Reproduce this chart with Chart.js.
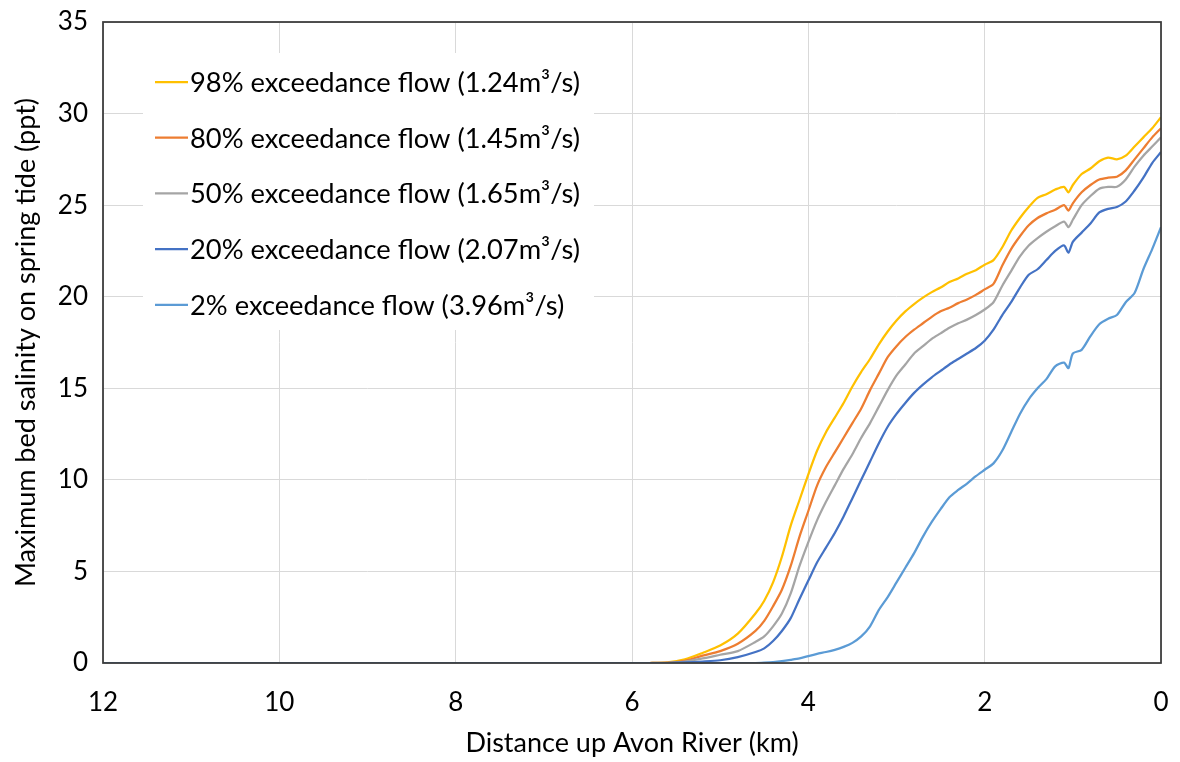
<!DOCTYPE html>
<html>
<head>
<meta charset="utf-8">
<script src="https://cdn.jsdelivr.net/npm/chart.js@4.4.1/dist/chart.umd.min.js"></script>
<style>
  html, body { margin: 0; padding: 0; background: #fff; }
  #wrap { width: 1180px; height: 762px; }
</style>
</head>
<body>
<div id="wrap"><canvas id="salinityChart" width="1180" height="762"></canvas></div>
<script>
// distance up river (km) shared by every series
const distanceKm = [12, 6, 5.8, 5.6, 5.4, 5.2, 5.0, 4.8, 4.6, 4.5, 4.4, 4.3, 4.2, 4.1, 4.0,
  3.9, 3.8, 3.7, 3.6, 3.5, 3.4, 3.3, 3.2, 3.1, 3.0, 2.9, 2.8, 2.7, 2.6, 2.5, 2.4, 2.3, 2.2,
  2.1, 2.0, 1.9, 1.8, 1.7, 1.6, 1.5, 1.4, 1.3, 1.2, 1.1, 1.05, 1.0, 0.9, 0.8, 0.7, 0.6, 0.5,
  0.4, 0.3, 0.2, 0.1, 0];

// max bed salinity (ppt) per flow scenario
const flow98 = [0, 0, 0, 0.03, 0.2, 0.55, 0.95, 1.6, 2.7, 3.4, 4.4, 5.8, 7.5, 8.9, 10.3,
  11.6, 12.6, 13.4, 14.2, 15.1, 15.9, 16.6, 17.4, 18.1, 18.7, 19.2, 19.6, 19.95, 20.25, 20.5, 20.8, 21.0, 21.25,
  21.45, 21.75, 22.0, 22.7, 23.6, 24.3, 24.9, 25.4, 25.6, 25.85, 26.0, 25.7, 26.1, 26.7, 27.0, 27.4, 27.6, 27.5,
  27.7, 28.2, 28.7, 29.2, 29.8];
const flow80 = [0, 0, 0, 0.02, 0.12, 0.4, 0.65, 1.05, 1.75, 2.3, 3.1, 4.0, 5.3, 6.9, 8.3,
  9.7, 10.7, 11.5, 12.3, 13.1, 13.9, 14.9, 15.8, 16.7, 17.3, 17.8, 18.2, 18.55, 18.9, 19.2, 19.4, 19.65, 19.85,
  20.1, 20.4, 20.7, 21.7, 22.6, 23.3, 23.9, 24.3, 24.55, 24.75, 25.0, 24.7, 25.1, 25.7, 26.1, 26.4, 26.5, 26.55,
  26.9, 27.5, 28.1, 28.7, 29.2];
const flow50 = [0, 0, 0, 0.01, 0.08, 0.25, 0.45, 0.65, 1.15, 1.45, 2.0, 2.7, 3.8, 5.3, 6.6,
  7.8, 8.8, 9.7, 10.6, 11.4, 12.3, 13.1, 14.0, 14.9, 15.7, 16.3, 16.9, 17.3, 17.7, 18.0, 18.3, 18.55, 18.75,
  19.0, 19.3, 19.7, 20.6, 21.4, 22.2, 22.8, 23.2, 23.55, 23.85, 24.1, 23.8, 24.2, 25.0, 25.5, 25.9, 26.0, 26.0,
  26.4, 27.1, 27.7, 28.2, 28.7];
const flow20 = [0, 0, 0, 0, 0.03, 0.08, 0.15, 0.32, 0.6, 0.8, 1.2, 1.75, 2.45, 3.5, 4.5,
  5.5, 6.3, 7.1, 8.0, 9.0, 10.0, 11.0, 12.0, 12.9, 13.6, 14.2, 14.75, 15.2, 15.6, 15.95, 16.3, 16.6, 16.9,
  17.2, 17.6, 18.2, 19.0, 19.7, 20.5, 21.2, 21.5, 22.0, 22.5, 22.8, 22.4, 23.0, 23.5, 24.0, 24.6, 24.8, 24.9,
  25.2, 25.8, 26.5, 27.3, 27.9];
const flow2 = [0, 0, 0, 0, 0, 0, 0, 0, 0, 0.02, 0.05, 0.1, 0.17, 0.25, 0.38,
  0.5, 0.6, 0.72, 0.88, 1.1, 1.45, 2.0, 2.9, 3.6, 4.4, 5.2, 6.0, 6.9, 7.7, 8.4, 9.05, 9.45, 9.8,
  10.2, 10.55, 10.9, 11.6, 12.6, 13.6, 14.4, 15.0, 15.5, 16.2, 16.4, 16.1, 16.9, 17.1, 17.85, 18.5, 18.8, 19.0,
  19.7, 20.2, 21.5, 22.6, 23.8];

const seriesLabels = [
  '98% exceedance flow (1.24m³/s)',
  '80% exceedance flow (1.45m³/s)',
  '50% exceedance flow (1.65m³/s)',
  '20% exceedance flow (2.07m³/s)',
  '2% exceedance flow (3.96m³/s)'
];
const seriesValues = [flow98, flow80, flow50, flow20, flow2];
const seriesColors = ['#FFC000', '#ED7D31', '#A5A5A5', '#4472C4', '#5B9BD5'];

const yTicks = [0, 5, 10, 15, 20, 25, 30, 35];
const xTicks = [0, 2, 4, 6, 8, 10, 12];

const FONT = 'Lato, "Open Sans", sans-serif';
const TEXT_COLOR = '#000';

// legend drawn inside the plot area, on a white box (Excel style)
const insideLegend = {
  id: 'insideLegend',
  afterDatasetsDraw(chart) {
    const {ctx, chartArea} = chart;
    const boxL = chartArea.left + 40, boxT = chartArea.top + 31;
    const boxW = 451, boxH = 277;
    const rowH = 55.7, firstRow = chartArea.top + 60;
    ctx.save();
    ctx.fillStyle = '#fff';
    ctx.fillRect(boxL, boxT, boxW, boxH);
    ctx.font = '27.3px ' + FONT;
    ctx.textBaseline = 'middle';
    ctx.textAlign = 'left';
    chart.data.datasets.forEach((ds, i) => {
      const y = firstRow + i * rowH;
      ctx.strokeStyle = ds.borderColor;
      ctx.lineWidth = 2.25;
      ctx.beginPath();
      ctx.moveTo(boxL + 12, y);
      ctx.lineTo(boxL + 45, y);
      ctx.stroke();
      ctx.fillStyle = TEXT_COLOR;
      ctx.fillText(ds.label, boxL + 47, y + 1);
    });
    ctx.restore();
  }
};

// dark frame round the plot area
const plotFrame = {
  id: 'plotFrame',
  afterDraw(chart) {
    const {ctx, chartArea} = chart;
    ctx.save();
    ctx.strokeStyle = '#3a3a3a';
    ctx.lineWidth = 1.75;
    ctx.strokeRect(chartArea.left, chartArea.top, chartArea.right - chartArea.left, chartArea.bottom - chartArea.top);
    ctx.restore();
  }
};

const ctx = document.getElementById('salinityChart').getContext('2d');
new Chart(ctx, {
  type: 'line',
  data: {
    datasets: seriesValues.map((vals, i) => ({
      label: seriesLabels[i],
      data: distanceKm.map((d, j) => ({x: d, y: vals[j]})),
      borderColor: seriesColors[i],
      backgroundColor: seriesColors[i],
      borderWidth: 2.25,
      pointRadius: 0,
      tension: 0.25,
      fill: false,
      order: seriesValues.length - i
    }))
  },
  options: {
    responsive: false,
    animation: false,
    events: [],
    layout: {padding: {top: 22, right: 19, left: 0, bottom: 0}},
    plugins: {legend: {display: false}, tooltip: {enabled: false}},
    scales: {
      x: {
        type: 'linear',
        reverse: true,
        min: 0,
        max: 12,
        afterBuildTicks: s => { s.ticks = xTicks.map(v => ({value: v})); },
        afterFit: s => { s.height = 99; s.paddingLeft = 0; s.paddingRight = 0; },
        grid: {color: '#d9d9d9', lineWidth: 1, drawTicks: false},
        border: {display: false},
        ticks: {color: TEXT_COLOR, font: {family: FONT, size: 26}, padding: 24, maxRotation: 0},
        title: {display: true, text: 'Distance up Avon River (km)', color: TEXT_COLOR,
          font: {family: FONT, size: 27}, padding: {top: 0, bottom: 3}}
      },
      y: {
        min: 0,
        max: 35,
        afterBuildTicks: s => { s.ticks = yTicks.map(v => ({value: v})); },
        afterFit: s => { s.width = 103; s.paddingTop = 0; s.paddingBottom = 0; },
        grid: {color: '#d9d9d9', lineWidth: 1, drawTicks: false},
        border: {display: false},
        ticks: {color: TEXT_COLOR, font: {family: FONT, size: 26}, padding: 15},
        title: {display: true, text: 'Maximum bed salinity on spring tide (ppt)', color: TEXT_COLOR,
          font: {family: FONT, size: 27}, padding: {top: 10, bottom: 0}}
      }
    }
  },
  plugins: [insideLegend, plotFrame]
});
</script>
</body>
</html>
